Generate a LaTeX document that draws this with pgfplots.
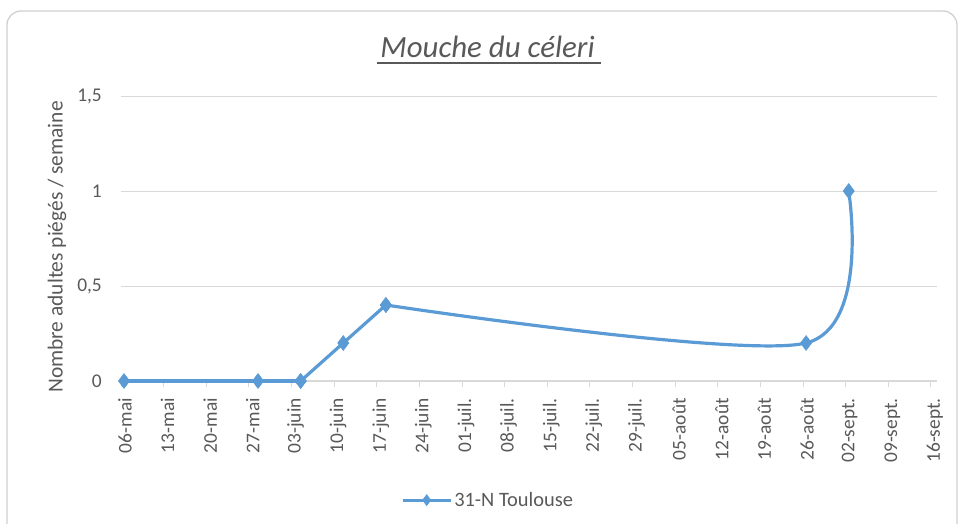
\documentclass[border=0pt]{standalone}
\usepackage{pgfplots}
\pgfplotsset{compat=1.18}
\usepackage{fontspec}
\setmainfont{Carlito}
\definecolor{serie}{HTML}{5B9BD5}
\definecolor{grille}{HTML}{D9D9D9}
\definecolor{cadre}{HTML}{D0D0D0}
\definecolor{texte}{HTML}{595959}
\begin{document}
\begin{tikzpicture}
\useasboundingbox (0bp,0bp) rectangle (963bp,-524bp);
\draw[cadre, line width=1.3bp, rounded corners=14bp] (7bp,-11bp) rectangle (957bp,-545bp);
\node[texte, font=\fontsize{31}{36}\selectfont\itshape, inner sep=0pt] at (487.5bp,-47bp) {Mouche du céleri};
\draw[texte, line width=1.5bp] (377bp,-63bp) -- (601bp,-63bp);
\node[texte, rotate=90, font=\fontsize{21.5}{24}\selectfont] at (57bp,-247bp) {Nombre adultes piégés / semaine};
\begin{axis}[
  at={(121bp,-381bp)}, anchor=south west,
  scale only axis, width=816bp, height=285bp,
  xmin=0, xmax=134, ymin=0, ymax=1.5,
  axis lines*=left,
  x axis line style={grille, line width=1.2bp, -},
  y axis line style={draw=none},
  ytick={0,0.5,1,1.5},
  yticklabels={0,{0,5},1,{1,5}},
  ymajorgrids, grid style={grille, line width=0.9bp},
  xtick={0,7,...,133},
  xticklabels={06-mai,13-mai,20-mai,27-mai,03-juin,10-juin,17-juin,24-juin,01-juil.,08-juil.,15-juil.,22-juil.,29-juil.,05-août,12-août,19-août,26-août,02-sept.,09-sept.,16-sept.},
  x tick label style={rotate=90, anchor=east, inner sep=0pt, xshift=-11bp, yshift=-4bp},
  y tick label style={anchor=east, inner sep=0pt, xshift=-19bp},
  tick label style={font=\fontsize{19.5}{22}\selectfont, text=texte},
  /pgf/number format/assume math mode=true,
  xtick style={grille, line width=1bp},
  major tick length=6bp,
  xtick pos=bottom, xtick align=outside,
  ytick style={draw=none},
  clip=false,
  legend style={at={(0.4498,-0.418)}, anchor=center, draw=none, fill=none,
    font=\fontsize{20.5}{24}\selectfont, text=texte, inner sep=1bp},
  legend image code/.code={\draw[mark repeat=2, mark phase=2, mark size=5.5bp] plot coordinates {(0bp,0bp) (24bp,0bp) (48bp,0bp)};},
]
\addplot[serie, line width=3.2bp, smooth, mark=diamond*, mark size=7.5bp, mark options={solid, fill=serie, draw=serie, line width=0.5bp}]
  table {
x y
0.5 0
22.5 0
29.5 0
};
\addlegendentry{31-N Toulouse}
\addplot[serie, line width=3.2bp, smooth, mark=diamond*, mark size=7.5bp, mark options={solid, fill=serie, draw=serie, line width=0.5bp}, forget plot]
  table {
x y
29.5 0
36.5 0.2
43.5 0.4
};
\addplot[serie, line width=3.2bp, smooth, mark=diamond*, mark size=7.5bp, mark options={solid, fill=serie, draw=serie, line width=0.5bp}, forget plot]
  table {
x y
43.5 0.4
112.5 0.2
119.5 1
};
\end{axis}
\end{tikzpicture}
\end{document}
